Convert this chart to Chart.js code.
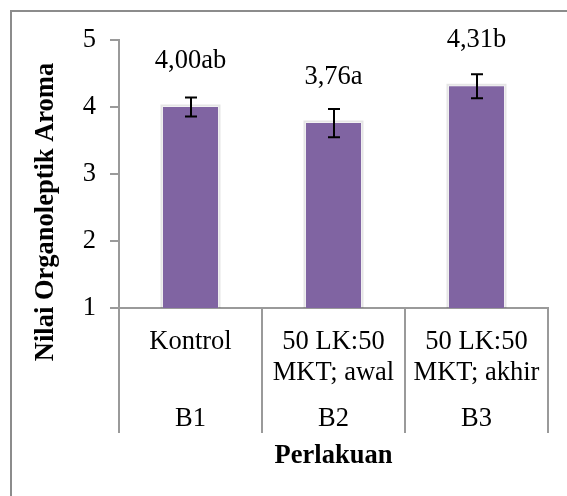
<!DOCTYPE html>
<html><head><meta charset="utf-8">
<script src="https://cdn.jsdelivr.net/npm/chart.js@4.4.1/dist/chart.umd.min.js"></script>
<style>html,body{margin:0;padding:0;background:#fff;overflow:hidden;}</style>
</head><body>
<canvas id="c" width="567" height="496"></canvas>
<script>
const categories = [["Kontrol"], ["50 LK:50", "MKT; awal"], ["50 LK:50", "MKT; akhir"]];
const groups = ["B1", "B2", "B3"];
const values = [4.00, 3.76, 4.31];
const errors = [0.14, 0.21, 0.18];
const valueLabels = ["4,00ab", "3,76a", "4,31b"];
const yMin = 1, yMax = 5, yStep = 1;
const yTitle = "Nilai Organoleptik Aroma";
const xTitle = "Perlakuan";

const FONT = "'Liberation Serif', 'Times New Roman', serif";
const AXIS = '#9a9a9a';

const extras = {
  id: 'extras',
  beforeDraw(chart) {
    const ctx = chart.ctx;
    ctx.save();
    ctx.fillStyle = '#fff';
    ctx.fillRect(0, 0, chart.width, chart.height);
    ctx.strokeStyle = '#8c8c8c';
    ctx.lineWidth = 2;
    ctx.strokeRect(11, 11, chart.width + 50, chart.height + 50);
    ctx.restore();
  },
  beforeDatasetsDraw(chart) {
    const ctx = chart.ctx;
    const meta = chart.getDatasetMeta(0);
    const base = chart.scales.y.getPixelForValue(yMin);
    ctx.save();
    ctx.strokeStyle = 'rgba(0,0,0,0.10)';
    ctx.lineWidth = 2;
    meta.data.forEach(bar => {
      const l = bar.x - bar.width / 2 - 1.5, r = bar.x + bar.width / 2 + 1.5, t = bar.y - 1.5;
      ctx.beginPath();
      ctx.moveTo(l, base); ctx.lineTo(l, t); ctx.lineTo(r, t); ctx.lineTo(r, base);
      ctx.stroke();
    });
    ctx.restore();
  },
  afterDraw(chart) {
    const ctx = chart.ctx;
    const meta = chart.getDatasetMeta(0);
    const ys = chart.scales.y, xs = chart.scales.x;
    ctx.save();
    // error bars
    ctx.strokeStyle = '#000';
    ctx.lineWidth = 2;
    meta.data.forEach((bar, i) => {
      const top = ys.getPixelForValue(values[i] + errors[i]);
      const bot = ys.getPixelForValue(values[i] - errors[i]);
      const x = Math.round(bar.x);
      ctx.beginPath();
      ctx.moveTo(x, top); ctx.lineTo(x, bot);
      ctx.moveTo(x - 6, top); ctx.lineTo(x + 6, top);
      ctx.moveTo(x - 6, bot); ctx.lineTo(x + 6, bot);
      ctx.stroke();
    });
    // value labels
    ctx.fillStyle = '#000';
    ctx.font = '26.5px ' + FONT;
    ctx.textAlign = 'center';
    ctx.textBaseline = 'middle';
    meta.data.forEach((bar, i) => {
      ctx.fillText(valueLabels[i], bar.x, bar.y - 46);
    });
    // category labels
    categories.forEach((lines, i) => {
      const x = xs.getPixelForValue(i);
      lines.forEach((ln, j) => ctx.fillText(ln, x, xs.top + 34 + j * 31));
      ctx.fillText(groups[i], x, xs.top + 111);
    });
    // y title
    ctx.font = 'bold 26.5px ' + FONT;
    ctx.translate(46, 212);
    ctx.rotate(-Math.PI / 2);
    ctx.fillText(yTitle, 0, 0);
    ctx.restore();
  }
};

new Chart(document.getElementById('c'), {
  type: 'bar',
  data: {
    labels: groups,
    datasets: [{
      data: values,
      backgroundColor: '#8064A2',
      borderWidth: 0,
      barPercentage: 0.385,
      categoryPercentage: 1.0
    }]
  },
  options: {
    responsive: false,
    animation: false,
    devicePixelRatio: 1,
    layout: { padding: { left: 0, right: 19, top: 40, bottom: 0 } },
    plugins: { legend: { display: false }, tooltip: { enabled: false } },
    scales: {
      x: {
        type: 'category',
        offset: true,
        grid: { offset: true, drawOnChartArea: false, drawTicks: true, tickLength: 125, color: AXIS, lineWidth: 2 },
        border: { display: true, color: AXIS, width: 2 },
        ticks: { display: false },
        title: { display: true, text: xTitle, color: '#000', font: { family: FONT, size: 26.5, weight: 'bold' }, padding: { top: 0, bottom: 24 } },
        afterFit: s => { s.height = 188; }
      },
      y: {
        min: yMin, max: yMax,
        ticks: { stepSize: yStep, color: '#000', font: { family: FONT, size: 26.5 }, padding: 14 },
        grid: { drawOnChartArea: false, drawTicks: true, tickLength: 9, color: AXIS, lineWidth: 2 },
        border: { display: true, color: AXIS, width: 2 },
        afterFit: s => { s.width = 119; }
      }
    }
  },
  plugins: [extras]
});
</script>
</body></html>
